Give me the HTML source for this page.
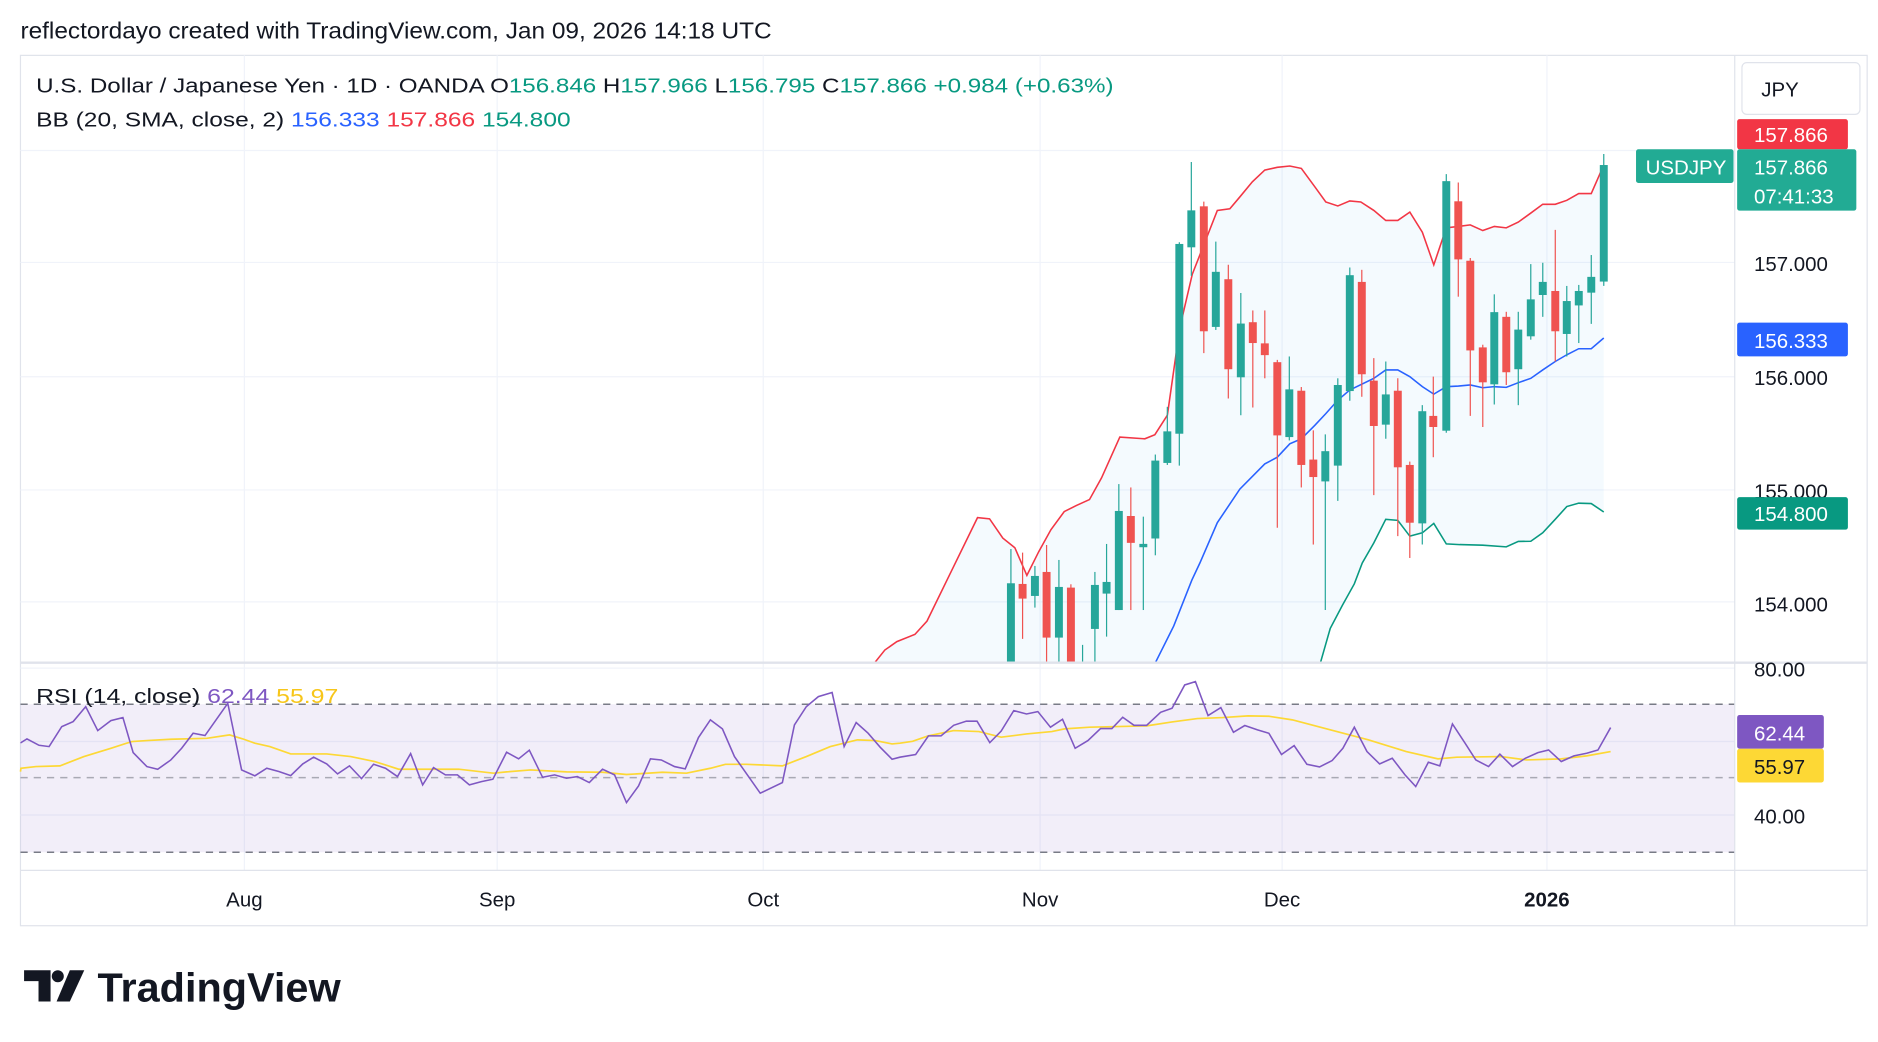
<!DOCTYPE html>
<html><head><meta charset="utf-8">
<style>
html,body{margin:0;padding:0;background:#fff;width:1878px;height:1042px;overflow:hidden}
svg{display:block}
text{font-family:"Liberation Sans",sans-serif}
</style></head>
<body>
<svg id="s" width="1878" height="1042" viewBox="0 0 1560 865.6" preserveAspectRatio="none" xmlns="http://www.w3.org/2000/svg">
<defs>
<clipPath id="pc"><rect x="17" y="125" width="1424" height="425"/></clipPath>
<clipPath id="pc2"><rect x="17" y="46" width="1424" height="504"/></clipPath>
</defs>
<rect x="0" y="0" width="1560" height="866" fill="#fff"/>
<text x="17" y="32" font-size="19" fill="#131722" textLength="624" lengthAdjust="spacingAndGlyphs">reflectordayo created with TradingView.com, Jan 09, 2026 14:18 UTC</text>
<rect x="17" y="46" width="1534" height="723" fill="none" stroke="#e0e3eb" stroke-width="1"/>
<g id="grid" stroke="#f0f3fa" stroke-width="1"></g>
<rect x="17" y="585" width="1424" height="123" fill="#7e57c2" fill-opacity="0.1"/>
<g id="main"></g>
<line x1="1441" y1="46" x2="1441" y2="769" stroke="#e0e3eb"/>
<line x1="17" y1="550.5" x2="1551" y2="550.5" stroke="#e0e3eb" stroke-width="2"/>
<line x1="17" y1="723" x2="1551" y2="723" stroke="#e0e3eb"/>
<!-- legend -->
<text x="30" y="77" font-size="17" textLength="895" lengthAdjust="spacingAndGlyphs" fill="#131722">U.S. Dollar / Japanese Yen · 1D · OANDA  O<tspan fill="#089981">156.846</tspan>  H<tspan fill="#089981">157.966</tspan>  L<tspan fill="#089981">156.795</tspan>  C<tspan fill="#089981">157.866</tspan>  <tspan fill="#089981">+0.984 (+0.63%)</tspan></text>
<text x="30" y="105" font-size="17" textLength="444" lengthAdjust="spacingAndGlyphs" fill="#131722">BB (20, SMA, close, 2)  <tspan fill="#2962ff">156.333</tspan>  <tspan fill="#f23645">157.866</tspan>  <tspan fill="#089981">154.800</tspan></text>
<text x="30" y="584" font-size="17" textLength="251" lengthAdjust="spacingAndGlyphs" fill="#131722">RSI (14, close)  <tspan fill="#7e57c2">62.44</tspan>  <tspan fill="#f7c61a">55.97</tspan></text>
<!-- right axis -->
<rect x="1447" y="52" width="98" height="43" rx="4" fill="#fff" stroke="#e0e3eb"/>
<text x="1463" y="80" font-size="17" fill="#131722">JPY</text>
<g font-size="17" fill="#131722">
<text x="1457" y="225">157.000</text>
<text x="1457" y="320">156.000</text>
<text x="1457" y="414">155.000</text>
<text x="1457" y="508">154.000</text>
<text x="1457" y="562">80.00</text>
<text x="1457" y="684">40.00</text>
</g>
<rect x="1443" y="99" width="92" height="25" rx="2" fill="#f23645"/>
<text x="1457" y="118" font-size="17" fill="#fff">157.866</text>
<rect x="1359" y="124" width="81" height="28" rx="2" fill="#22ab94"/>
<text x="1367" y="145" font-size="17" fill="#fff">USDJPY</text>
<rect x="1443" y="124" width="99" height="51" rx="2" fill="#22ab94"/>
<text x="1457" y="145" font-size="17" fill="#fff">157.866</text>
<text x="1457" y="169" font-size="17" fill="#fff">07:41:33</text>
<rect x="1443" y="268" width="92" height="28" rx="2" fill="#2962ff"/>
<text x="1457" y="289" font-size="17" fill="#fff">156.333</text>
<rect x="1443" y="413" width="92" height="27" rx="2" fill="#089981"/>
<text x="1457" y="433" font-size="17" fill="#fff">154.800</text>
<rect x="1443" y="594" width="72" height="28" rx="2" fill="#7e57c2"/>
<text x="1457" y="615" font-size="17" fill="#fff">62.44</text>
<rect x="1443" y="622" width="72" height="28" rx="2" fill="#fdd835"/>
<text x="1457" y="643" font-size="17" fill="#131722">55.97</text>
<!-- time axis -->
<g font-size="17" fill="#131722" text-anchor="middle">
<text x="203" y="753">Aug</text>
<text x="413" y="753">Sep</text>
<text x="634" y="753">Oct</text>
<text x="864" y="753">Nov</text>
<text x="1065" y="753">Dec</text>
<text x="1285" y="753" font-weight="bold">2026</text>
</g>
<!-- logo -->
<g fill="#131722">
<path d="M20 806 h22 v26 h-10 v-17 h-12 z"/>
<circle cx="48" cy="811" r="5"/>
<path d="M58 806 h12 l-12 26 h-11 z"/>
</g>
<text x="81" y="832" font-size="34" font-weight="bold" fill="#131722" textLength="202" lengthAdjust="spacingAndGlyphs">TradingView</text>
</svg>
<script>
var NS="http://www.w3.org/2000/svg";
function el(p,t,a){var e=document.createElementNS(NS,t);for(var k in a)e.setAttribute(k,a[k]);p.appendChild(e);return e;}
var g=document.getElementById('grid');
[125,218,313,407,500,555,616,677].forEach(function(y){el(g,'line',{x1:17,y1:y,x2:1441,y2:y});});
[203,413,634,864,1065,1285].forEach(function(x){el(g,'line',{x1:x,y1:46,x2:x,y2:723});});
var m=document.getElementById('main');
function Z2(ox,oy){return [913.6+ox/2.408,218+(oy-365)*0.279];}
function Z3x(ox){return 822.3+ox/3.612;} function Z3y(oy){return 390.4+oy/3.612;}
function pts(a){return a.map(function(p){return p[0].toFixed(1)+','+p[1].toFixed(1);}).join(' ');}
// bands
var up=[[727,550],[735,540],[745,533],[760,527],[770,516],[790,475],[812,430],[822,431],[833,447],[843,455],[853,478],[863,458],[873,440],[884,425],[894,420],[905,415],[915,397]];
[[40,885],[90,890],[110,878],[135,820],[160,560],[185,400],[235,210],[260,205],[280,170],[305,125],[330,90],[355,82],[380,78],[403,85],[430,140],[452,185],[476,197],[500,182],[522,185],[548,210],[572,240],[596,240],[620,215],[645,275],[668,372],[693,262],[717,258],[741,253],[766,270],[789,258],[813,262],[837,245],[862,218],[886,192],[911,192],[934,180],[958,160],[983,160],[1008,75]].forEach(function(p){up.push(Z2(p[0],p[1]));});
var mid=[[940,600],[960,550],[975,520],[990,482]];
[[200,1260],[235,1140],[280,1040],[330,965],[355,945],[380,905],[403,890],[430,850],[452,815],[476,775],[500,745],[548,710],[572,685],[596,685],[620,705],[645,735],[668,757],[693,735],[717,733],[741,730],[766,738],[789,735],[813,737],[837,723],[862,710],[886,685],[911,660],[934,640],[958,622],[983,622],[1008,590]].forEach(function(p){mid.push(Z2(p[0],p[1]));});
var lo=[[727,900],[1090,575],[1097,550],[1105,522],[1115,503],[1125,485]];
[[525,1260],[548,1200],[572,1130],[596,1133],[620,1180],[645,1170],[668,1142],[693,1203],[720,1205],[766,1207],[813,1212],[837,1196],[862,1195],[886,1170],[911,1130],[934,1092],[958,1082],[983,1083],[1008,1108]].forEach(function(p){lo.push(Z2(p[0],p[1]));});
var cg=el(m,'g',{'clip-path':'url(#pc2)'});
el(cg,'polygon',{points:pts(up.concat(lo.slice().reverse())),fill:'#2196f3','fill-opacity':'0.05'});
el(cg,'polyline',{points:pts(up),fill:'none',stroke:'#f23645','stroke-width':1.3});
el(cg,'polyline',{points:pts(mid),fill:'none',stroke:'#2962ff','stroke-width':1.3});
el(cg,'polyline',{points:pts(lo),fill:'none',stroke:'#089981','stroke-width':1.3});
// candles
var G='#26a69a',R='#ef5350',bw=6.6;
function candle(x,bt,bb,wt,wb,c){el(cg,'line',{x1:x,y1:wt,x2:x,y2:wb,stroke:c,'stroke-width':1});el(cg,'rect',{x:x-bw/2,y:bt,width:bw,height:Math.max(1.2,bb-bt),fill:c});}
[[63,340,620,237,620,G],[98,342,386,248,507,R],[135,318,378,288,413,G],[170,306,503,225,620,R],[207,351,503,270,620,G],[243,353,620,343,620,R],[278,600,620,525,620,G],[315,345,477,306,620,G],[350,336,371,222,500,G]].forEach(function(c){candle(Z3x(c[0]),Z3y(c[1]),Z3y(c[2]),Z3y(c[3]),Z3y(c[4]),c[5]);});
[[1008,75,422,42,435,G],[983,408,455,343,548,G],[958,450,493,432,605,G],[934,480,578,435,645,G],[911,450,570,268,660,R],[886,423,462,366,527,G],[862,475,585,370,595,G],[837,565,683,512,790,G],[813,527,692,512,730,R],[789,513,728,460,788,G],[766,618,722,610,855,R],[741,360,627,352,822,R],[717,183,356,127,467,R],[693,123,866,102,872,G],[667,822,855,705,945,R],[645,808,1142,790,1205,G],[620,968,1140,958,1245,R],[596,747,975,710,1180,R],[572,758,848,660,890,G],[548,717,852,650,1058,R],[524,423,698,387,765,R],[500,403,748,380,777,G],[476,730,970,710,1075,G],[451,927,1017,877,1400,G],[427,952,1004,865,1205,R],[403,747,968,736,1035,R],[379,743,885,645,895,G],[355,662,880,655,1155,R],[330,606,641,508,710,R],[306,543,605,508,797,R],[282,547,707,456,820,G],[257,415,683,372,770,R],[232,393,557,303,566,G],[208,198,570,184,635,R],[183,210,320,66,405,G],[159,310,875,305,970,G],[135,868,962,795,968,G],[111,955,1187,937,1237,G],[87,1203,1213,1122,1400,G],[62,1120,1200,1035,1400,R],[38,1105,1400,1025,1400,G]].forEach(function(c){var a=Z2(c[0],c[1]),b=Z2(c[0],c[2]),w1=Z2(c[0],c[3]),w2=Z2(c[0],c[4]);candle(a[0],a[1],b[1],w1[1],w2[1],c[5]);});
// RSI levels
el(m,'line',{x1:17,y1:585,x2:1441,y2:585,stroke:'#787b86','stroke-dasharray':'6,5','stroke-width':1.2});
el(m,'line',{x1:17,y1:708,x2:1441,y2:708,stroke:'#787b86','stroke-dasharray':'6,5','stroke-width':1.2});
el(m,'line',{x1:17,y1:646,x2:1441,y2:646,stroke:'#787b86','stroke-opacity':'0.6','stroke-dasharray':'6,5','stroke-width':1.2});
function Z4(p){return [p[0]/2.008,548.2+p[1]/3.612];}
function Z5(p){return [747.5+p[0]/1.902,548.2+p[1]/3.612];}
var rp=[[35,248],[45,237],[65,256],[82,260],[103,200],[122,185],[143,140],[163,212],[185,182],[205,173],[222,278],[245,320],[263,328],[285,300],[303,265],[322,220],[342,227],[380,130],[403,330],[425,348],[445,325],[465,335],[485,347],[505,312],[523,292],[545,312],[563,342],[583,318],[603,356],[623,313],[643,325],[663,350],[685,281],[705,375],[723,323],[743,345],[763,345],[783,375],[803,365],[822,358],[845,277],[865,297],[883,271],[905,352],[925,345],[945,355],[963,350],[983,368],[1005,328],[1025,345],[1045,428],[1065,378],[1085,297],[1103,300],[1125,320],[1143,327],[1165,233],[1185,180],[1205,207],[1225,290],[1268,400],[1305,368],[1325,195],[1345,140],[1365,110],[1388,98],[1408,260],[1428,188],[1448,220],[1468,262],[1488,298]].map(Z4);
[[0,292],[25,284],[45,228],[65,228],[85,196],[105,184],[122,184],[142,248],[160,214],[180,152],[200,162],[218,155],[238,202],[257,178],[277,265],[297,242],[317,206],[335,206],[352,172],[370,196],[390,196],[412,157],[430,145],[450,75],[467,65],[487,167],[507,143],[527,217],[545,197],[565,210],[583,220],[603,284],[623,257],[643,313],[663,321],[683,302],[700,265],[718,202],[738,275],[758,312],[778,295],[798,345],[815,380],[835,307],[853,318],[873,192],[893,250],[910,300],[930,320],[948,283],[968,320],[988,295],[1008,278],[1025,270],[1045,305],[1065,288],[1085,280],[1103,270],[1123,203]].forEach(function(p){rp.push(Z5(p));});
rp.unshift([17,617]);
var yp=[[35,325],[60,320],[100,318],[140,290],[185,265],[220,245],[245,242],[285,238],[345,235],[383,225],[405,237],[425,250],[450,260],[485,282],[545,282],[585,290],[625,305],[665,328],[725,328],[765,328],[823,340],[845,336],[885,330],[945,336],[1005,337],[1045,344],[1105,337],[1145,340],[1185,325],[1210,313],[1245,313],[1305,318],[1345,290],[1385,260],[1430,240],[1460,242],[1488,252]].map(Z4);
[[0,250],[20,244],[45,228],[85,212],[125,215],[160,232],[200,222],[240,215],[260,207],[300,202],[390,198],[430,186],[470,176],[510,173],[550,168],[583,169],[620,180],[680,210],[740,240],[800,275],[850,297],[880,292],[950,290],[990,300],[1045,297],[1085,288],[1123,275]].forEach(function(p){yp.push(Z5(p));});
yp.unshift([17,641]);
el(m,'polyline',{points:pts(yp),fill:'none',stroke:'#fdd835','stroke-width':1.4});
el(m,'polyline',{points:pts(rp),fill:'none',stroke:'#7e57c2','stroke-width':1.3});
</script>
</body></html>
